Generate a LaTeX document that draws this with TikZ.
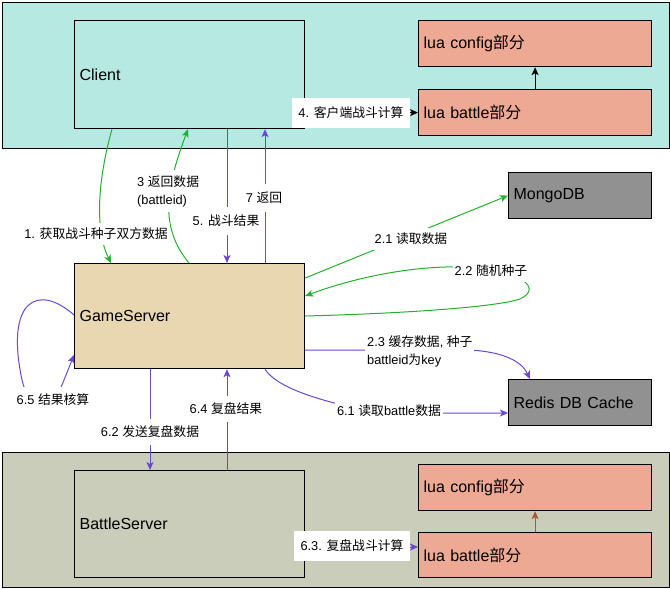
\documentclass[tikz,border=0pt]{standalone}
\usepackage{fontspec}
\setmainfont{Liberation Sans}
\newfontfamily\cjk{Noto Sans CJK SC}
\usetikzlibrary{arrows.meta}
\definecolor{cTop}{HTML}{B7E9E3}
\definecolor{cBot}{HTML}{C9CDB9}
\definecolor{cGS}{HTML}{E8D7B1}
\definecolor{cLua}{HTML}{EEA994}
\definecolor{cDB}{HTML}{919191}
\definecolor{cGreen}{HTML}{22B22A}
\definecolor{cPurple}{HTML}{6B45D6}
\definecolor{cBrown}{HTML}{A45A2E}
\begin{document}
\begin{tikzpicture}[x=1pt,y=-1pt,
  bx/.style={draw=black,line width=1.2pt,anchor=north west,inner xsep=5pt,inner ysep=0pt,align=left,font=\fontsize{16}{19}\selectfont},
  cont/.style={draw=black,line width=1.2pt,anchor=north west,inner sep=0pt},
  lbl/.style={fill=white,inner xsep=2pt,inner ysep=5pt,font=\fontsize{12.8}{18}\selectfont,align=left},
  tag/.style={fill=white,inner sep=0pt,font=\fontsize{12.8}{18}\selectfont,minimum height=30pt},
  tip/.style={-{Stealth[length=8pt,width=7pt,inset=2pt]}},
  gr/.style={line width=1pt,draw=cGreen,tip},
  pu/.style={line width=1pt,draw=cPurple,tip},
  bk/.style={line width=1pt,draw=black,tip},
  br/.style={line width=1pt,draw=cBrown,tip}
]
\useasboundingbox (0,0) rectangle (670,589);
% containers
\node[cont,fill=cTop,minimum width=667pt,minimum height=146pt] (top) at (2,2) {};
\node[cont,fill=cBot,minimum width=667pt,minimum height=135pt] (bot) at (2,452) {};
% boxes
\node[bx,fill=cTop,text width=220pt,minimum height=108pt] (client) at (74,20) {Client};
\node[bx,fill=cLua,text width=223pt,minimum height=46pt] (luac1) at (418,20) {lua config{\cjk 部分}};
\node[bx,fill=cLua,text width=223pt,minimum height=46pt] (luab1) at (418,89) {lua battle{\cjk 部分}};
\node[bx,fill=cGS,text width=220pt,minimum height=105pt] (gs) at (74,263) {GameServer};
\node[bx,fill=cDB,text width=133pt,minimum height=46pt] (mongo) at (508,172) {MongoDB};
\node[bx,fill=cDB,text width=133pt,minimum height=46pt] (redis) at (508,379) {Redis DB Cache};
\node[bx,fill=cBot,text width=220pt,minimum height=107pt] (battle) at (74,470) {BattleServer};
\node[bx,fill=cLua,text width=223pt,minimum height=46pt] (luac2) at (418,464) {lua config{\cjk 部分}};
\node[bx,fill=cLua,text width=223pt,minimum height=45pt] (luab2) at (418,532) {lua battle{\cjk 部分}};
% connectors
\draw[gr] ([xshift=38pt]client.south west) .. controls (95,190) and (97,235) .. ([xshift=37pt]gs.north west);
\draw[gr] ([xshift=115pt]gs.north west) .. controls (160,228) and (165,190) .. ([xshift=114pt]client.south west);
\draw[pu] ([xshift=153pt]client.south west) -- ([xshift=153pt]gs.north west);
\draw[pu] ([xshift=191pt]gs.north west) -- ([xshift=191pt]client.south west);
\draw[bk] (client.east |- luab1.west) -- (luab1.west);
\draw[bk] (luab1.north) -- (luac1.south);
\draw[gr] ([yshift=-15pt]gs.north east) -- (mongo.west);
\draw[gr] ([yshift=-53pt]gs.north east) .. controls (420,313) and (500,306) .. (520,299) .. controls (533,293) and (533,284) .. (515,276) .. controls (470,258) and (380,268) .. ([yshift=-33pt]gs.north east);
\draw[pu] ([yshift=-87pt]gs.north east) -- (470,350) .. controls (505,352) and (522,362) .. ([xshift=22pt]redis.north west);
\draw[pu] ([xshift=191pt]gs.south west) .. controls (275,385) and (310,400) .. (380,413) -- ([yshift=-34pt]redis.north west);
\draw[pu] ([xshift=76pt]gs.south west) -- ([xshift=76pt]battle.north west);
\draw[pu] ([xshift=153pt]battle.north west) -- ([xshift=153pt]gs.south west);
\draw[pu] ([yshift=-52pt]gs.north west) .. controls (38,283) and (5,300) .. (22,380) .. controls (28,408) and (52,410) .. (62,385) -- ([yshift=-92pt]gs.north west);
\draw[pu] ([yshift=-77pt]battle.north east) -- ([yshift=-77pt]battle.north east -| luab2.west);
\draw[br] (luab2.north) -- (luac2.south);
% labels
\node[lbl] (l1) at (96,234) {1. {\cjk 获取战斗种子双方数据}};
\node[lbl,anchor=west] (l3) at (135,191) {3 {\cjk 返回数据}\\(battleid)};
\node[lbl,inner ysep=8pt] (l5) at (226,221) {5. {\cjk 战斗结果}};
\node[lbl,inner ysep=8pt] (l7) at (264,198) {7 {\cjk 返回}};
\node[lbl] (l21) at (411,239) {2.1 {\cjk 读取数据}};
\node[lbl] (l22) at (491,271) {2.2 {\cjk 随机种子}};
\node[lbl,anchor=west] (l23) at (365,351) {2.3 {\cjk 缓存数据}, {\cjk 种子}\\battleid{\cjk 为}key};
\node[lbl] (l61) at (389,411) {6.1 {\cjk 读取}battle{\cjk 数据}};
\node[lbl,inner ysep=7pt] (l62) at (150,432) {6.2 {\cjk 发送复盘数据}};
\node[lbl,inner ysep=7pt] (l64) at (226,409) {6.4 {\cjk 复盘结果}};
\node[lbl,inner ysep=7pt] (l65) at (53,400) {6.5 {\cjk 结果核算}};
\node[tag,minimum width=118pt] (l4) at (351,113) {4. {\cjk 客户端战斗计算}};
\node[tag,minimum width=116pt] (l63) at (352,546) {6.3. {\cjk 复盘战斗计算}};
\end{tikzpicture}
\end{document}
